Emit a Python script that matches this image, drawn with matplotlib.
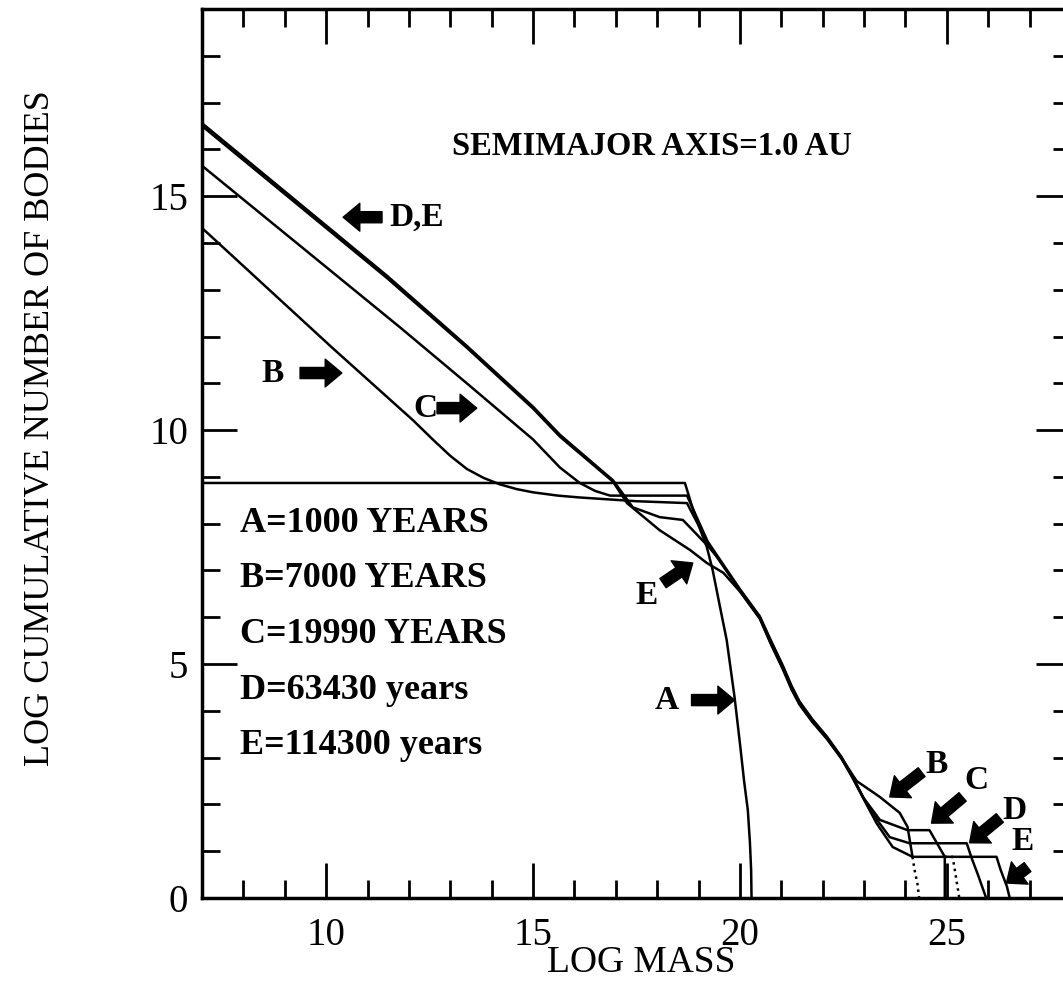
import matplotlib
matplotlib.use("Agg")
import matplotlib.pyplot as plt
from matplotlib.ticker import MultipleLocator

plt.rcParams['font.family'] = ['Liberation Serif', 'DejaVu Serif']

# cumulative mass distributions at successive times (log mass, log N)
A_x = [7.0, 18.67, 18.85, 19.05, 19.2, 19.34, 19.5, 19.68, 19.87, 20.0, 20.1,
       20.19, 20.24, 20.27, 20.28]
A_y = [8.87, 8.87, 8.35, 7.85, 7.5, 7.01, 6.3, 5.51, 4.29, 3.3, 2.5,
       1.88, 1.2, 0.6, 0.0]

B_x = [7.0, 10.16, 12.10, 12.6, 13.0, 13.4, 13.8, 14.2, 14.6, 15.0, 15.6, 16.13,
       17.5, 18.72, 19.2, 19.51, 20.0, 20.48, 20.75, 21.03, 21.25, 21.44, 21.75,
       22.1, 22.45, 22.82, 23.38, 23.86, 24.05, 24.17]
B_y = [14.32, 11.75, 10.21, 9.78, 9.45, 9.17, 8.98, 8.84, 8.74, 8.67, 8.6, 8.56,
       8.48, 8.44, 7.62, 7.2, 6.58, 6.0, 5.47, 4.95, 4.5, 4.17, 3.8,
       3.44, 3.0, 2.5, 2.16, 1.82, 1.52, 0.88]
B_end_x = [24.17, 24.22, 24.29, 24.33]
B_end_y = [0.88, 0.6, 0.3, 0.0]

C_x = [7.0, 11.78, 13.4, 15.0, 15.65, 16.13, 16.5, 16.86, 17.5, 18.72, 19.22,
       19.51, 20.0, 20.48, 20.75, 21.03, 21.25, 21.44, 21.75, 22.1, 22.45,
       22.75, 22.97, 23.38, 24.05, 24.58, 24.95, 24.95]
C_y = [15.65, 12.2, 11.0, 9.8, 9.2, 8.87, 8.7, 8.6, 8.6, 8.6, 7.62,
       7.24, 6.6, 6.02, 5.5, 4.98, 4.53, 4.2, 3.82, 3.45, 3.02,
       2.55, 2.16, 1.67, 1.45, 1.45, 0.88, 0.0]
C_end_x = [24.95, 25.14, 25.22, 25.3]
C_end_y = [0.88, 0.88, 0.45, 0.0]

D_x = [7.0, 11.47, 13.4, 15.0, 15.65, 16.93, 17.41, 18.06, 18.62, 18.86, 19.25,
       19.51, 20.0, 20.48, 20.75, 21.03, 21.25, 21.44, 21.75, 22.1, 22.45, 22.7,
       23.14, 23.62, 24.1, 25.48, 25.6, 25.75, 25.91, 25.95]
D_y = [16.56, 13.3, 11.8, 10.5, 9.9, 8.93, 8.35, 8.14, 8.08, 7.86, 7.5,
       7.22, 6.56, 5.98, 5.44, 4.93, 4.47, 4.15, 3.78, 3.42, 3.0, 2.62,
       1.88, 1.30, 1.17, 1.17, 0.85, 0.5, 0.1, 0.0]

E_x = [7.0, 11.47, 13.4, 15.0, 15.65, 16.93, 17.27, 18.06, 18.79, 19.2, 19.6,
       20.0, 20.48, 20.75, 21.03, 21.25, 21.44, 21.75, 22.1, 22.45, 22.7, 23.3,
       23.69, 24.17, 26.2, 26.3, 26.45, 26.52]
E_y = [16.50, 13.25, 11.76, 10.46, 9.86, 8.9, 8.44, 7.86, 7.44, 7.16, 6.95,
       6.55, 5.97, 5.42, 4.9, 4.45, 4.13, 3.76, 3.4, 2.98, 2.6, 1.6,
       1.09, 0.88, 0.88, 0.6, 0.25, 0.0]

times = ["A=1000 YEARS", "B=7000 YEARS", "C=19990 YEARS",
         "D=63430 years", "E=114300 years"]

fig = plt.figure(figsize=(10.63, 9.85), dpi=100)
ax = fig.add_axes([202 / 1063, 87 / 985, 869 / 1063, 889 / 985])

lw = 1.8
ax.plot(A_x, A_y, color='k', lw=lw)
ax.plot(B_x, B_y, color='k', lw=lw)
ax.plot(B_end_x, B_end_y, color='k', lw=lw, ls=':')
ax.plot(C_x, C_y, color='k', lw=lw)
ax.plot(C_end_x, C_end_y, color='k', lw=lw, ls=':')
ax.plot(D_x, D_y, color='k', lw=lw)
ax.plot(E_x, E_y, color='k', lw=lw)

ax.set_xlim(7, 28)
ax.set_ylim(0, 19)
ax.xaxis.set_major_locator(MultipleLocator(5))
ax.xaxis.set_minor_locator(MultipleLocator(1))
ax.yaxis.set_major_locator(MultipleLocator(5))
ax.yaxis.set_minor_locator(MultipleLocator(1))
ax.tick_params(which='both', direction='in', top=True, right=True, width=2)
ax.tick_params(which='major', length=25, labelsize=28)
ax.tick_params(which='minor', length=13)
ax.tick_params(axis='x', pad=14)
ax.tick_params(axis='y', pad=10)
for sp in ax.spines.values():
    sp.set_linewidth(2.5)

ax.set_xlabel("LOG MASS", fontsize=27)
ax.xaxis.set_label_coords(0.505, -0.073)
ax.xaxis.label.set_va('center')
ax.set_ylabel("LOG CUMULATIVE NUMBER OF BODIES", fontsize=26)
ax.yaxis.set_label_coords(-0.186, 0.529)
ax.yaxis.label.set_va('center')

ax.text(13.05, 16.07, "SEMIMAJOR AXIS=1.0 AU", fontsize=23.5, fontweight='bold',
        ha='left', va='center')

for i, t in enumerate(times):
    ax.text(7.92, 8.01 - 1.19 * i, t, fontsize=26, fontweight='bold',
            ha='left', va='center')

arrow = dict(arrowstyle='simple,head_length=0.6,head_width=1.0,tail_width=0.4',
             fc='k', ec='k', shrinkA=0, shrinkB=0, mutation_scale=20)

# (label, text xy, arrow tail, arrow tip, text alignment)
notes = [
    ("D,E", (11.54, 14.55), (11.35, 14.55), (10.41, 14.55), 'left'),
    ("B", (8.71, 11.22), (9.37, 11.22), (10.38, 11.22), 'center'),
    ("C", (12.39, 10.47), (12.68, 10.47), (13.64, 10.47), 'center'),
    ("E", (17.75, 6.47), (18.14, 6.73), (18.86, 7.16), 'center'),
    ("A", (18.23, 4.23), (18.83, 4.23), (19.87, 4.23), 'center'),
    ("B", (24.75, 2.86), (24.39, 2.69), (23.62, 2.16), 'center'),
    ("C", (25.72, 2.52), (25.38, 2.16), (24.63, 1.60), 'center'),
    ("D", (26.64, 1.88), (26.28, 1.71), (25.55, 1.18), 'center'),
    ("E", (26.83, 1.20), (26.95, 0.66), (26.44, 0.32), 'center'),
]
for lab, txy, tail, tip, ha in notes:
    ax.annotate("", xy=tip, xytext=tail, arrowprops=arrow)
    ax.text(txy[0], txy[1], lab, fontsize=24, fontweight='bold',
            ha=ha, va='center')

fig.savefig("out.png", dpi=100)
